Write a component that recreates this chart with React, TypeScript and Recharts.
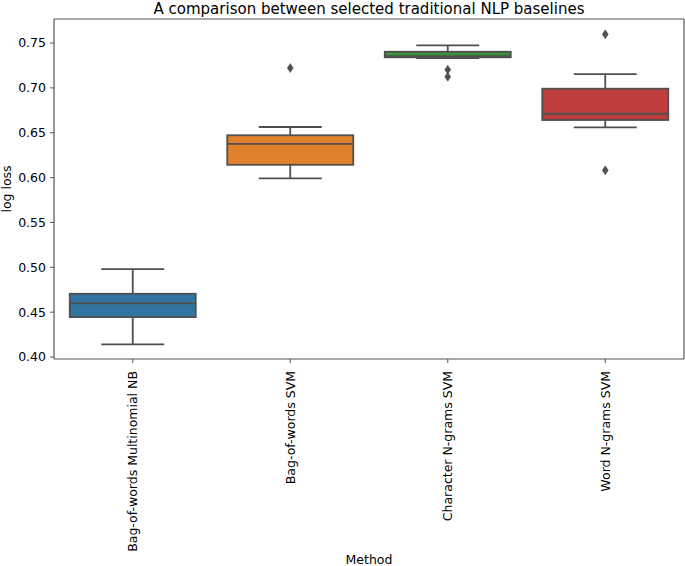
import React from 'react';
import { ComposedChart, Bar, Line, XAxis, YAxis } from 'recharts';

// ---- data ----
const categories = [
  'Bag-of-words Multinomial NB',
  'Bag-of-words SVM',
  'Character N-grams SVM',
  'Word N-grams SVM',
];
const whiskerLow = [0.4141, 0.5992, 0.7333, 0.656];
const q1Values = [0.4445, 0.6143, 0.7341, 0.6642];
const medianValues = [0.4598, 0.6376, 0.7355, 0.6712];
const q3Values = [0.4705, 0.6472, 0.7403, 0.6991];
const whiskerHigh = [0.498, 0.6564, 0.7474, 0.7154];
const outlierValues: number[][] = [[], [0.7221], [0.7203, 0.7124], [0.7597, 0.6081]];
const yTicks = [0.4, 0.45, 0.5, 0.55, 0.6, 0.65, 0.7, 0.75];
const yDomain: [number, number] = [0.3978, 0.7768];

const titleText = 'A comparison between selected traditional NLP baselines';
const xLabel = 'Method';
const yLabel = 'log loss';

// ---- styles ----
const palette = ['#3274a1', '#e1812c', '#3a923a', '#c03d3e'];
const LINE = '#4f4f4f';
const FRAME = '#555555';
const FONT = "'DejaVu Sans', sans-serif";

const data = categories.map((name, i) => ({
  name,
  range: [whiskerLow[i], whiskerHigh[i]],
  lo: whiskerLow[i],
  q1: q1Values[i],
  med: medianValues[i],
  q3: q3Values[i],
  hi: whiskerHigh[i],
  outliers: outlierValues[i],
  idx: i,
}));

function BoxShape(props: any) {
  const { x, y, width, height, payload } = props;
  if (!payload || width == null || height == null) return null;
  const top = Math.min(y, y + height);
  const h = Math.abs(height);
  const span = payload.hi - payload.lo;
  const py = (v: number) => top + ((payload.hi - v) / span) * h;
  const cx = x + width / 2;
  const capHalf = width / 4;
  const sw = 1.8;
  const fill = palette[payload.idx % palette.length];
  return (
    <g>
      <line x1={cx} x2={cx} y1={py(payload.hi)} y2={py(payload.q3)} stroke={LINE} strokeWidth={sw} />
      <line x1={cx} x2={cx} y1={py(payload.q1)} y2={py(payload.lo)} stroke={LINE} strokeWidth={sw} />
      <line x1={cx - capHalf} x2={cx + capHalf} y1={py(payload.hi)} y2={py(payload.hi)} stroke={LINE} strokeWidth={sw} />
      <line x1={cx - capHalf} x2={cx + capHalf} y1={py(payload.lo)} y2={py(payload.lo)} stroke={LINE} strokeWidth={sw} />
      <rect
        x={x}
        y={py(payload.q3)}
        width={width}
        height={Math.max(0.5, py(payload.q1) - py(payload.q3))}
        fill={fill}
        stroke={LINE}
        strokeWidth={sw}
      />
      <line x1={x} x2={x + width} y1={py(payload.med)} y2={py(payload.med)} stroke={LINE} strokeWidth={sw} />
      {payload.outliers.map((v: number, k: number) => {
        const oy = py(v);
        return (
          <polygon
            key={k}
            points={`${cx},${oy - 4.5} ${cx + 3},${oy} ${cx},${oy + 4.5} ${cx - 3},${oy}`}
            fill={LINE}
            stroke={LINE}
            strokeWidth={0.5}
          />
        );
      })}
    </g>
  );
}

function XTick(props: any) {
  const { x, y, payload } = props;
  return (
    <g>
      <text
        x={x + 4.5}
        y={y + 6}
        transform={`rotate(-90, ${x + 4.5}, ${y + 6})`}
        textAnchor="end"
        fontSize={12.5}
        fontFamily={FONT}
        fill="#000"
      >
        {payload.value}
      </text>
    </g>
  );
}

export default function App() {
  return (
    <div style={{ position: 'absolute', left: 0, top: 0, width: 685, height: 566, background: '#fff' }}>
      <ComposedChart
        width={685}
        height={566}
        data={data}
        margin={{ top: 18, right: 0, bottom: 0, left: 0 }}
        barCategoryGap="10%"
      >
        <XAxis
          dataKey="name"
          type="category"
          height={207}
          interval={0}
          tick={<XTick />}
          tickLine={{ stroke: FRAME, strokeWidth: 1 }}
          tickSize={4}
          axisLine={{ stroke: FRAME, strokeWidth: 1.2 }}
        />
        <XAxis
          xAxisId="top"
          dataKey="name"
          type="category"
          orientation="top"
          height={1}
          tick={false}
          tickLine={false}
          axisLine={{ stroke: FRAME, strokeWidth: 1.2 }}
        />
        <YAxis
          type="number"
          domain={yDomain}
          allowDataOverflow
          ticks={yTicks}
          interval={0}
          width={54}
          tickFormatter={(v: number) => v.toFixed(2)}
          tick={{ fontSize: 12.5, fontFamily: FONT, fill: '#000' }}
          tickLine={{ stroke: FRAME, strokeWidth: 1 }}
          tickSize={4}
          tickMargin={4}
          axisLine={{ stroke: FRAME, strokeWidth: 1.2 }}
        />
        <YAxis
          yAxisId="right"
          type="number"
          orientation="right"
          domain={yDomain}
          allowDataOverflow
          width={1}
          tick={false}
          tickLine={false}
          axisLine={{ stroke: FRAME, strokeWidth: 1.2 }}
        />
        <Bar dataKey="range" shape={<BoxShape />} isAnimationActive={false} />
        <Line
          xAxisId="top"
          yAxisId="right"
          dataKey="med"
          stroke="none"
          dot={false}
          activeDot={false}
          legendType="none"
          isAnimationActive={false}
        />
      </ComposedChart>
      <svg
        width={685}
        height={566}
        style={{ position: 'absolute', left: 0, top: 0, pointerEvents: 'none' }}
      >
        <text x={369} y={13.5} textAnchor="middle" fontSize={15} fontFamily={FONT} fill="#000">
          {titleText}
        </text>
        <text x={369} y={563.5} textAnchor="middle" fontSize={12.5} fontFamily={FONT} fill="#000">
          {xLabel}
        </text>
        <text
          x={11}
          y={189}
          transform="rotate(-90, 11, 189)"
          textAnchor="middle"
          fontSize={12.5}
          fontFamily={FONT}
          fill="#000"
        >
          {yLabel}
        </text>
      </svg>
    </div>
  );
}
